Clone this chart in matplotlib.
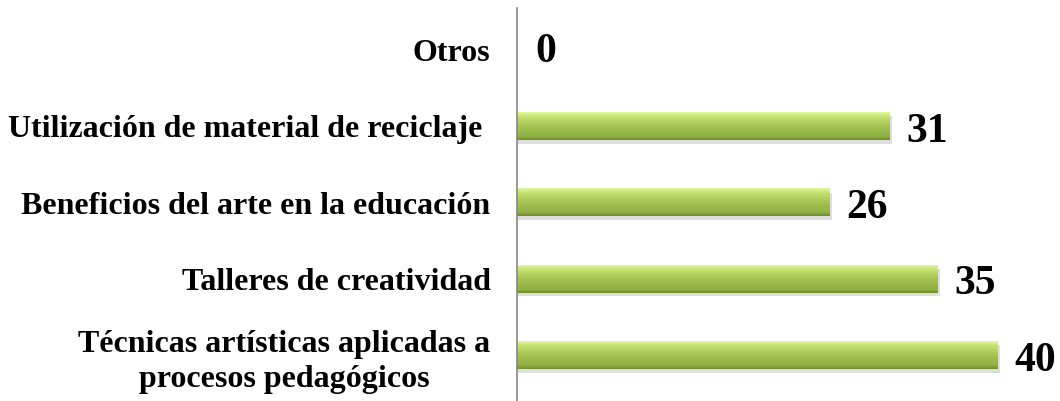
import matplotlib.pyplot as plt
import numpy as np
from matplotlib.colors import LinearSegmentedColormap

categories = [
    "Técnicas artísticas aplicadas a\nprocesos pedagógicos",
    "Talleres de creatividad",
    "Beneficios del arte en la educación",
    "Utilización de material de reciclaje ",
    "Otros",
]
values = [40, 35, 26, 31, 0]

plt.rcParams["font.family"] = ["Liberation Serif", "DejaVu Serif"]

fig = plt.figure(figsize=(10.6, 4.01), dpi=100)
ax = fig.add_axes([517 / 1060, 0.0, 541 / 1060, 393 / 401])

ypos = np.arange(len(categories))
bar_h = 0.36
bars = ax.barh(ypos, values, height=bar_h, color="none", edgecolor="none")

green = LinearSegmentedColormap.from_list(
    "bevel", [(0, "#6e8c30"), (0.12, "#8fb043"), (0.5, "#a3c552"),
              (0.85, "#c6e370"), (1, "#e2f7a0")]
)
grad = np.linspace(0, 1, 64).reshape(-1, 1)

for b, v in zip(bars, values):
    y0 = b.get_y()
    if v <= 0:
        ax.text(1.5, y0 + bar_h / 2 - 0.03, str(v), ha="left", va="center",
                fontsize=30, fontweight="bold")
        continue
    # soft shadow under the bar
    ax.add_patch(plt.Rectangle((0, y0 - 0.05), v + 0.2, bar_h, color="#c8c8c8",
                               alpha=0.6, zorder=1, lw=0))
    ax.imshow(grad, cmap=green, aspect="auto", origin="lower",
              extent=(0, v, y0, y0 + bar_h), zorder=2)
    ax.text(v + 1.4, y0 + bar_h / 2 - 0.07, str(v), ha="left", va="center",
            fontsize=30, fontweight="bold")

ax.set_xlim(0, 45)
ax.set_ylim(-0.6, 4.55)
ax.set_yticks(ypos)
ax.set_yticklabels(categories, fontsize=23, fontweight="bold",
                   multialignment="center", linespacing=1.3)
ax.tick_params(axis="y", length=0, pad=19)
ax.set_xticks([])
for s in ["top", "right", "bottom"]:
    ax.spines[s].set_visible(False)
ax.spines["left"].set_color("#888888")
ax.spines["left"].set_linewidth(1.2)

fig.savefig("out.png", dpi=100)
